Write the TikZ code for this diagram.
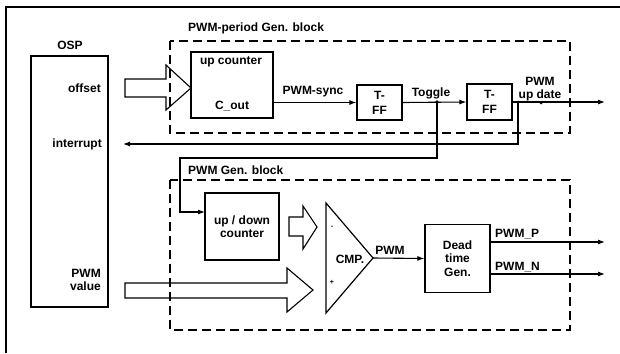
\documentclass[tikz,border=0pt]{standalone}
\usepackage{fontspec}
\setmainfont{Liberation Sans}
\usetikzlibrary{arrows.meta}
\tikzset{
  txt/.style={font=\fontsize{12}{13.5}\selectfont\bfseries, inner sep=0pt, align=center},
  blockbox/.style={draw, line width=1.2pt, inner sep=0pt, font=\fontsize{12}{13.5}\selectfont\bfseries, align=center},
  dashbox/.style={draw, line width=1.3pt, dash pattern=on 9pt off 5pt},
  wire/.style={line width=1.1pt},
  arr/.style={wire, -{Latex[length=7pt,width=5pt]}},
  hollow/.style={line width=1.1pt, line join=miter},
}
\begin{document}
\begin{tikzpicture}[x=1pt,y=-1pt]
\useasboundingbox (0,0) rectangle (620,353);
% outer frame
\draw[line width=1.3pt] (6,353) -- (6,7) -- (620,7);

% DSP
\node[blockbox, minimum width=77pt, minimum height=251pt] (dsp) at (69.5,181.5) {};
\node[txt] (dsplbl) at (70,45) {OSP};
\node[txt, anchor=east] (offlbl) at (101,88) {offset};
\node[txt, anchor=east] (intlbl) at (102,144) {interrupt};
\node[txt, anchor=east, align=right] (pwmvlbl) at (101,280) {PWM\\value};

% dashed blocks
\draw[dashbox] (170,41) rectangle (570,133);
\draw[dashbox] (170,180) rectangle (570,330);
\node[txt, anchor=west] (perlbl) at (188,28) {PWM-period Gen. block};
\node[txt, anchor=west] (genlbl) at (188,170) {PWM Gen. block};

% blocks
\node[blockbox, minimum width=82pt, minimum height=66pt] (upc) at (232,85) {};
\node[txt] (upclbl) at (231,62) {up counter};
\node[txt] (coutlbl) at (232,106) {C\_out};
\node[blockbox, minimum width=45pt, minimum height=35pt, font=\fontsize{12}{15}\selectfont\bfseries] (tff1) at (379.5,102.5) {T-\\FF};
\node[blockbox, minimum width=45pt, minimum height=36pt, font=\fontsize{12}{15}\selectfont\bfseries] (tff2) at (489.5,102) {T-\\FF};
\node[blockbox, minimum width=74pt, minimum height=67pt] (udc) at (242,226.5) {up / down\\counter};
\node[blockbox, minimum width=65pt, minimum height=68pt] (dtg) at (457.5,258.5) {Dead\\time\\Gen.};

% comparator
\coordinate (cmpA) at (326,203);
\coordinate (cmpB) at (326,313);
\coordinate (cmpT) at (373,258);
\draw[line width=1.2pt, line join=miter] (cmpA) -- (cmpT) -- (cmpB) -- cycle;
\node[txt] (cmplbl) at (350,259) {CMP.};
\node[txt, font=\fontsize{7}{7}\selectfont\bfseries] (cmpm) at (332,227) {-};
\node[txt, font=\fontsize{7}{7}\selectfont\bfseries] (cmpp) at (332,282) {+};

% hollow arrows
\draw[hollow] (125,79) -- (166,79) -- (166,65) -- (191,88) -- (166,110) -- (166,97) -- (125,97) -- cycle;
\draw[hollow] (289,217) -- (303,217) -- (303,206) -- (317,227) -- (303,249) -- (303,236) -- (289,236) -- cycle;
\draw[hollow] (125,283) -- (287,283) -- (287,268) -- (313,290) -- (287,312) -- (287,298) -- (125,298) -- cycle;

% top chain
\draw[arr] (tff1.west -| upc.east) -- (tff1.west);
\node[txt] (synclbl) at (313,92) {PWM-sync};
\draw[arr] (tff1.east) -- (tff2.west);
\node[txt] (toglbl) at (431,93) {Toggle};
\coordinate (upd) at (605,102);
\draw[arr] (tff2.east) -- (upd);
\node[txt] (updlbl) at (540,89) {PWM\\up date};

\coordinate (j1) at (437,102);
\coordinate (j2) at (518,102);
\fill (j1) circle (1.8pt);
\fill (j2) circle (1.5pt);
\fill (541,103) circle (1.5pt);

% interrupt feedback
\coordinate (intr) at (123,144);
\draw[arr] (j2) |- (intr);

% toggle to up/down counter
\coordinate (c1) at (180,158);
\coordinate (udin) at (205,212);
\draw[arr] (j1) |- (c1) |- (udin);

% PWM to dead time
\draw[arr] (cmpT) -- (dtg.west);
\node[txt] (pwmlbl) at (390,250) {PWM};

% outputs
\coordinate (pP) at (605,242);
\coordinate (pN) at (605,274);
\draw[arr] (dtg.east |- pP) -- (pP);
\draw[arr] (dtg.east |- pN) -- (pN);
\node[txt, anchor=west] (pPlbl) at (495,234) {PWM\_P};
\node[txt, anchor=west] (pNlbl) at (495,267) {PWM\_N};
\end{tikzpicture}
\end{document}
